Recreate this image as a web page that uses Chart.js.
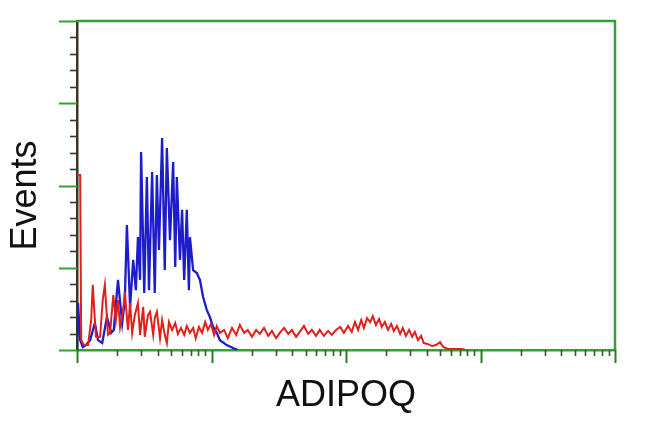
<!DOCTYPE html>
<html>
<head>
<meta charset="utf-8">
<script src="https://cdn.jsdelivr.net/npm/chart.js@4/dist/chart.umd.min.js"></script>
<style>
html,body{margin:0;padding:0;background:#fff;}
#wrap{width:650px;height:432px;}
</style>
</head>
<body>
<div id="wrap"><canvas id="c" width="650" height="432"></canvas></div>
<script>
// Fluorescence channel (256 channels per decade, 4 decades) and event counts
const blueChannels = [0,2,6,11,17,25,34,40,48,57,65,70,78,86,91,95,101,107,112,116,120,122,128,133,137,143,148,152,156,162,167,171,177,183,187,190,196,200,204,209,213,215,221,228,234,240,247,253,259,266,272,285,297,306];
const blueCounts = [0,14.3,3.0,0.9,1.5,3.0,8.2,3.0,2.1,10.0,5.2,6.1,21.3,8.2,15.2,38.0,13.1,27.4,18.2,34.3,21.3,60.2,17.3,52.6,18.2,54.1,17.3,53.2,30.4,64.4,24.3,61.4,33.4,57.1,25.2,52.6,27.4,42.6,21.3,42.6,18.2,34.3,24.3,23.4,21.3,16.1,12.2,10.0,7.0,5.2,3.0,1.5,0.6,0];

const redChannels = [0,6,8,13,21,27,30,36,44,49,53,59,63,69,74,78,82,88,91,97,101,105,110,116,120,126,129,135,139,145,148,152,158,162,167,171,175,181,187,192,198,204,209,215,221,226,232,238,244,249,255,261,266,272,280,287,295,303,310,318,325,333,341,348,356,364,371,379,386,394,402,409,417,424,432,440,447,455,462,470,478,485,493,501,508,516,523,529,535,541,546,552,558,563,569,575,580,586,592,598,603,609,615,620,626,632,638,643,649,655,660,668,676,683,691,697,706,719,733,740];
const redCounts = [53.2,53.2,3.0,1.5,1.5,9.1,19.8,4.0,4.0,15.2,19.8,4.6,5.2,16.7,9.1,15.2,7.0,12.2,17.6,6.1,14.3,5.2,10.6,14.3,4.6,13.1,4.0,10.6,11.6,4.6,9.7,11.6,3.6,9.1,4.6,2.1,8.5,6.1,8.2,4.9,6.7,4.6,7.3,5.2,6.7,3.6,7.0,5.2,8.5,6.1,7.9,4.6,7.3,5.2,6.1,3.6,6.7,4.6,7.6,5.2,6.1,4.0,6.1,4.9,6.7,4.3,5.8,3.6,5.2,6.7,4.9,6.1,4.0,5.5,7.3,4.9,6.1,4.3,6.1,4.3,5.8,4.6,6.1,7.0,5.2,7.3,5.5,8.5,6.1,9.1,6.7,9.7,8.5,10.3,7.6,9.4,7.0,8.5,6.1,7.9,5.8,7.3,4.9,6.7,4.3,6.1,4.0,5.5,3.0,4.3,2.1,1.8,1.2,1.5,2.4,0.9,0.3,0.3,0.3,0];

const decades = [0,1,2,3,4];          // log decades shown on the x axis
const channelsPerDecade = 256;
const yMajorStep = 25, yMinorStep = 5, yMax = 100;
const xTitle = 'ADIPOQ';
const yTitle = 'Events';

const GREEN = '#35a035';
const DARK = '#3b3522';

function xTickValues() {
  const out = [];
  decades.forEach((d, i) => {
    if (i === decades.length - 1) { out.push({value: d * channelsPerDecade, major: true}); return; }
    for (let k = 1; k <= 9; k++) {
      out.push({value: (d + Math.log10(k)) * channelsPerDecade, major: k === 1});
    }
  });
  return out;
}
function yTickValues() {
  const out = [];
  for (let v = 0; v <= yMax; v += yMinorStep) out.push({value: v, major: v % yMajorStep === 0});
  return out;
}

const tickPlugin = {
  id: 'fcsTicks',
  afterDraw(chart) {
    const {ctx, chartArea: a, scales: {x, y}} = chart;
    ctx.save();
    x.ticks.forEach(t => {
      const px = Math.round(x.getPixelForValue(t.value)) + 0.5;
      ctx.beginPath();
      ctx.strokeStyle = t.major ? '#2d7a2d' : '#2f5a2a';
      ctx.lineWidth = t.major ? 2 : 1.6;
      ctx.moveTo(px, a.bottom);
      ctx.lineTo(px, a.bottom + (t.major ? 13 : 6));
      ctx.stroke();
    });
    y.ticks.forEach(t => {
      const py = Math.round(y.getPixelForValue(t.value)) + 0.5;
      ctx.beginPath();
      ctx.strokeStyle = t.major ? GREEN : DARK;
      ctx.lineWidth = t.major ? 2 : 1.6;
      ctx.moveTo(a.left, py);
      ctx.lineTo(a.left - (t.major ? 18 : 7), py);
      ctx.stroke();
    });
    ctx.beginPath();
    ctx.strokeStyle = GREEN;
    ctx.lineWidth = 2.5;
    ctx.moveTo(a.left, a.top);
    ctx.lineTo(a.right, a.top);
    ctx.lineTo(a.right, a.bottom);
    ctx.stroke();
    ctx.restore();
  }
};

const bgPlugin = {
  id: 'bg',
  beforeDraw(chart) {
    const ctx = chart.ctx;
    ctx.save();
    ctx.fillStyle = '#ffffff';
    ctx.fillRect(0, 0, chart.width, chart.height);
    ctx.restore();
  }
};

new Chart(document.getElementById('c'), {
  type: 'line',
  data: {
    datasets: [
      {
        label: 'control',
        data: redChannels.map((c, i) => ({x: c, y: redCounts[i]})),
        borderColor: '#e0201c',
        borderWidth: 2,
        pointRadius: 0,
        tension: 0,
        fill: false,
        order: 1
      },
      {
        label: 'ADIPOQ',
        data: blueChannels.map((c, i) => ({x: c, y: blueCounts[i]})),
        borderColor: '#1c1ccc',
        borderWidth: 2.3,
        pointRadius: 0,
        tension: 0,
        fill: false,
        order: 2
      }
    ]
  },
  options: {
    responsive: false,
    animation: false,
    devicePixelRatio: 1,
    layout: {padding: {top: 21, right: 35, left: 0, bottom: 0}},
    plugins: {legend: {display: false}, tooltip: {enabled: false}},
    scales: {
      x: {
        type: 'linear',
        min: decades[0] * channelsPerDecade,
        max: decades[decades.length - 1] * channelsPerDecade,
        afterBuildTicks: s => { s.ticks = xTickValues(); },
        afterFit: s => { s.height = 82; },
        ticks: {display: false, autoSkip: false},
        grid: {display: false},
        border: {display: true, color: GREEN, width: 2.5},
        title: {
          display: true, text: xTitle, color: '#111',
          font: {family: 'Liberation Sans, Arial, sans-serif', size: 36},
          padding: {top: 0, bottom: 14}
        }
      },
      y: {
        type: 'linear',
        min: 0,
        max: yMax,
        afterBuildTicks: s => { s.ticks = yTickValues(); },
        afterFit: s => { s.width = 77; },
        ticks: {display: false, autoSkip: false},
        grid: {display: false},
        border: {display: true, color: DARK, width: 2.5},
        title: {
          display: true, text: yTitle + '  ', color: '#111',
          font: {family: 'Liberation Sans, Arial, sans-serif', size: 36},
          padding: {top: 4, bottom: 0}
        }
      }
    }
  },
  plugins: [bgPlugin, tickPlugin]
});
</script>
</body>
</html>
